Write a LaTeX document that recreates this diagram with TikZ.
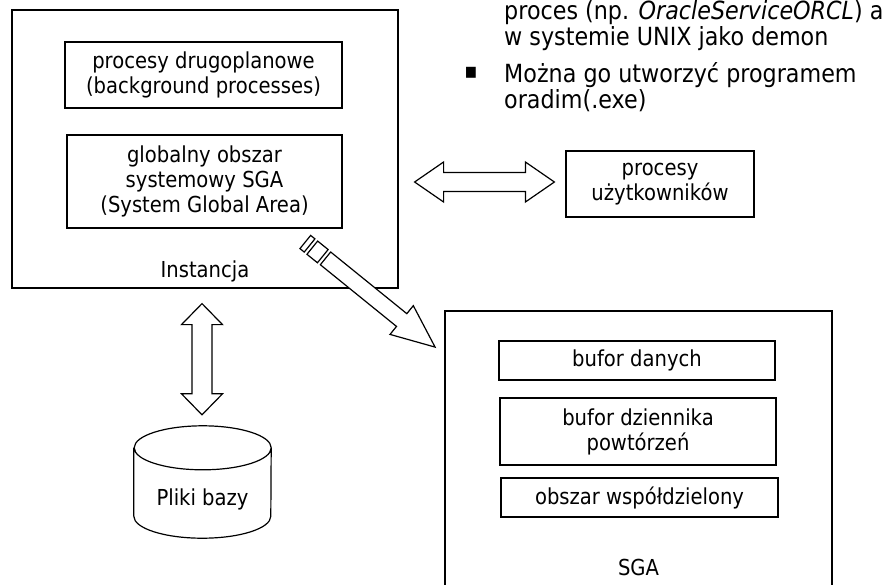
\documentclass[tikz,border=0pt]{standalone}
\usepackage{fontspec}
\setmainfont{DejaVu Sans}[FakeStretch=0.89]
\usetikzlibrary{calc}

\begin{document}
\begin{tikzpicture}[x=1pt,y=1pt]
\tikzstyle{mybox} = [draw, line width=1.2pt, inner sep=0pt, align=center, font=\fontsize{22}{25}\selectfont]
\tikzstyle{mytext} = [inner sep=0pt, font=\fontsize{22}{25}\selectfont]
\tikzstyle{mybig} = [draw, line width=1.2pt, fill=white, line join=miter]
\tikzstyle{mynote} = [inner sep=0pt, align=left, anchor=north west, font=\fontsize{25}{26}\selectfont]
\useasboundingbox (0,0) rectangle (888,-584);
\clip (0,0) rectangle (888,-584);
% instancja
\node[mybox, minimum width=386, minimum height=278] (inst) at (205,-149) {};
\node[mybox, minimum width=277, minimum height=66] (bg) at (203.5,-75)
  {procesy drugoplanowe\\(background processes)};
\node[mybox, minimum width=275, minimum height=93] (sgai) at (204.5,-181.5)
  {globalny obszar\\systemowy SGA\\(System Global Area)};
\node[mytext, anchor=base] (instlbl) at ($(inst.south)+(0,11)$) {Instancja};
% uzytkownicy
\node[mybox, minimum width=188, minimum height=66] (user) at (660,-184)
  {procesy\\użytkowników};
% SGA
\node[mybox, minimum width=387, minimum height=289] (sga) at (638.5,-455.5) {};
\node[mybox, minimum width=276, minimum height=39] (bd) at (637,-360.5) {bufor danych};
\node[mybox, minimum width=276, minimum height=67] (bdp) at (638,-431.5)
  {bufor dziennika\\powtórzeń};
\node[mybox, minimum width=277, minimum height=39] (ow) at (639.5,-497.5) {obszar współdzielony};
\node[mytext, anchor=base] (sgalbl) at ($(sga.south)+(0,25)$) {SGA};
% pliki
\node[minimum width=137, minimum height=112, inner sep=0pt] (db) at (202.5,-482) {};
\draw[line width=1.2pt] ($(db.north west)+(0,-22)$) -- ($(db.south west)+(0,22)$)
  arc[start angle=180, end angle=360, x radius=68.5, y radius=22]
  -- ($(db.north east)+(0,-22)$)
  arc[start angle=0, end angle=360, x radius=68.5, y radius=22];
\node[mytext] (dblbl) at (202.5,-499) {Pliki bazy};
% opis
\node[mynote] (opis) at (504,-0.5)
  {proces (np. \textit{OracleServiceORCL}) a\\w systemie UNIX jako demon};
\node[mynote] (oradim) at (504,-62) {Można go utworzyć programem\\oradim(.exe)};
\node[inner sep=0pt, font=\fontsize{22}{25}\selectfont] (pkt) at (471,-73) {▪};

% strzalki
\coordinate (iuA) at ($(inst.east)+(16,-33)$);
\coordinate (iuB) at ($(user.west)+(-11,2)$);
\draw[mybig] (iuA) -- ++(29,20) -- ++(0,-10.5) -- ($(iuB)+(-29,9.5)$) -- ++(0,10.5)
  -- (iuB) -- ++(-29,-20) -- ++(0,10.5) -- ($(iuA)+(29,-9.5)$) -- ++(0,-10.5) -- cycle;
\coordinate (idA) at ($(inst.south)+(-3,-15)$);
\coordinate (idB) at ($(idA |- db.north)+(0,11)$);
\draw[mybig] (idA) -- ++(20.5,-21) -- ++(-10.5,0) -- ($(idB)+(10,21)$) -- ++(10.5,0)
  -- (idB) -- ++(-20.5,21) -- ++(10.5,0) -- ($(idA)+(-10,-21)$) -- ++(-10.5,0) -- cycle;
\coordinate (isA) at (305.3,-242);
\begin{scope}[shift={(isA)}, rotate=-39]
 \draw[mybig] (0,-8.5) rectangle (5.5,8.5);
 \draw[mybig] (9,-8.5) rectangle (22.5,8.5);
 \draw[mybig] (26,-8.2) -- (124,-8.2) -- (124,-18.5) -- (167,0) -- (124,18.5)
   -- (124,8.2) -- (26,8.2) -- cycle;
\end{scope}
\end{tikzpicture}
\end{document}
